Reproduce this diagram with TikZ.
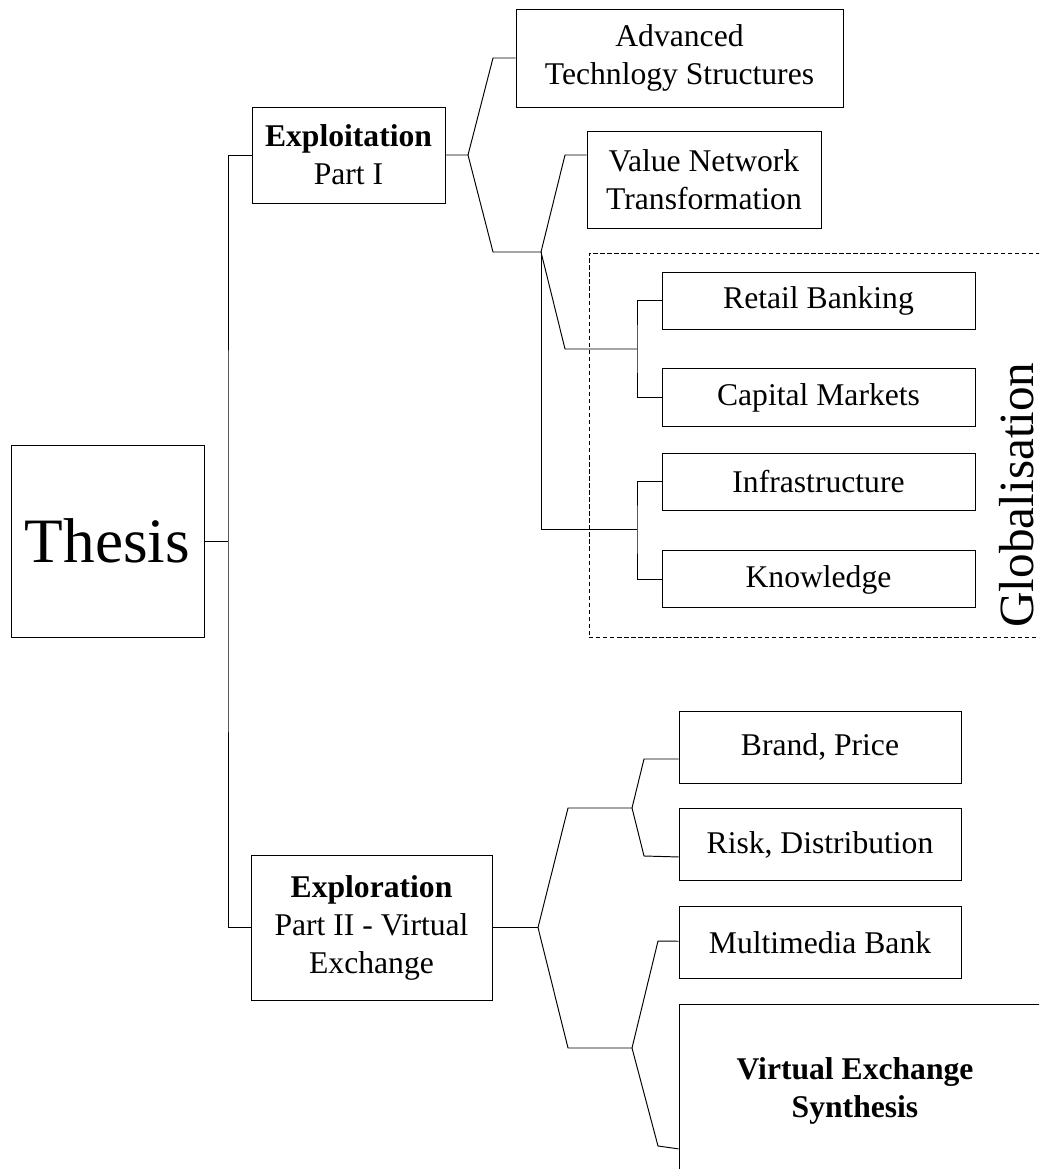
\documentclass[tikz,border=0pt]{standalone}
\usepackage{fontspec}
\setmainfont{Liberation Serif}
\usetikzlibrary{positioning}

\newcommand{\boxfont}{\fontsize{18}{21.6}\selectfont}

\begin{document}
\begin{tikzpicture}[x=0.02cm, y=-0.02cm, line width=0.55pt, node distance=0.5cm,
    box/.style={draw, rectangle, inner sep=0pt, align=center, font=\boxfont},
    boxsize/.style 2 args={minimum width=#1*0.02cm, minimum height=#2*0.02cm}]

   %\draw[help lines] (0,0) grid[step=50] (1039,1169);
   \useasboundingbox (0,0) rectangle (1039,1169);
   \clip (0,0) rectangle (1039,1169);

   % Define the boxes
   \node[box, boxsize={193}{192}, font=\fontsize{36}{40}\selectfont] (thesis) at (107.5,541) {Thesis};
   \node[box, boxsize={193}{96}] (exploit) at (348.5,155) {\textbf{Exploitation}\\Part I};
   \node[box, boxsize={241}{145}] (explore) at (371.5,927.5) {\textbf{Exploration}\\Part II - Virtual\\Exchange};

   \node[box, boxsize={327}{98}] (adv) at (679.5,58) {Advanced\\Technlogy Structures};
   \node[box, boxsize={234}{97}] (value) at (704,179.5) {Value Network\\Transformation};

   \node[draw, dash pattern=on 2.5pt off 1.5pt, boxsize={480}{384}] (globframe) at (829,445) {};
   \node[box, boxsize={313}{57}] (retail) at (818.5,300.5) {Retail Banking};
   \node[box, boxsize={313}{58}, below=0.78cm of retail] (capital) {Capital Markets};
   \node[box, boxsize={313}{57}] (infra) at (818.5,481.5) {Infrastructure};
   \node[box, boxsize={313}{57}, below=0.8cm of infra] (knowledge) {Knowledge};
   \node[rotate=90, anchor=base, inner sep=0pt, font=\fontsize{28}{30}\selectfont] (glob) at (1033,495) {Globalisation};

   \node[box, boxsize={282}{72}] (brand) at (820,747) {Brand, Price};
   \node[box, boxsize={282}{72}, below=of brand] (risk) {Risk, Distribution};
   \node[box, boxsize={282}{72}, below=of risk] (multi) {Multimedia Bank};
   \node[box, boxsize={400}{172}, below=of multi.south west, anchor=north west,
         label={[align=center, font=\boxfont\bfseries, xshift=-0.48cm]center:Virtual Exchange\\Synthesis}] (synth) {};

   % Define the forks
   \coordinate (t0) at (228,541);
   \coordinate (c1) at (468,155);
   \coordinate (c2) at (541,252);
   \coordinate (c3) at (637,349);
   \coordinate (c4) at (637,529);
   \coordinate (d1) at (538,927.5);
   \coordinate (d2) at (632,808);
   \coordinate (d3) at (632,1048);

   % Define connections
   \draw (thesis) -- (t0);
   \draw (exploit) -| (t0) |- (explore);

   \draw (exploit) -- (c1) -- ++(25,-97) -- (adv);
   \draw (c1) -- ++(25,97) -- (c2);
   \draw (c2) -- ++(24,-97) -- ([yshift=0.49cm]value.west);
   \draw (c2) -- ++(24,97) -- (c3);
   \draw (c2) |- (c4);
   \draw (retail) -| (c3) |- (capital);
   \draw (infra) -| (c4) |- (knowledge);

   \draw (explore) -- (d1);
   \draw (d1) -- ++(30,-119.5) -- (d2);
   \draw (d1) -- ++(30,120.5) -- (d3);
   \draw (d2) -- ++(12,-49) -- ([yshift=-0.24cm]brand.west);
   \draw (d2) -- ++(12,48) -- ([yshift=-0.24cm]risk.west);
   \draw (d3) -- ++(26,-107) -- (multi);
   \draw (d3) -- ++(26,98) -- ([yshift=-1.16cm]synth.west);

\end{tikzpicture}
\end{document}
